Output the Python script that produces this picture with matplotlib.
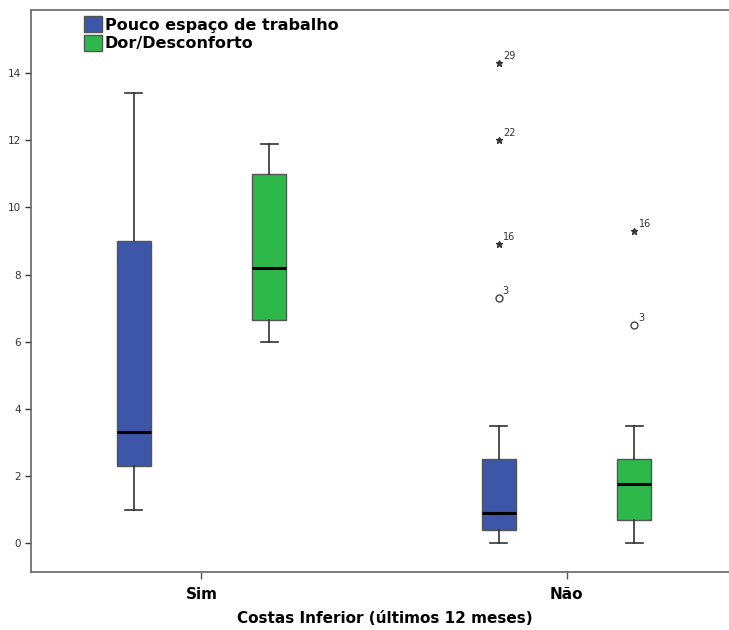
import numpy as np
import matplotlib.pyplot as plt
from matplotlib.patches import Patch

# groups on x axis
groups = ["Sim", "Não"]
series = ["Pouco espaço de trabalho", "Dor/Desconforto"]
colors = ["#3E56A8", "#2EB84B"]

# box stats: [whislo, q1, med, q3, whishi]
pouco = [[1.0, 2.3, 3.3, 9.0, 13.4], [0.0, 0.4, 0.9, 2.5, 3.5]]
dor = [[6.0, 6.65, 8.2, 11.0, 11.9], [0.0, 0.7, 1.75, 2.5, 3.5]]

# outliers (group index, series index, value, case label, kind)
out_group = [1, 1, 1, 1, 1, 1]
out_series = [0, 0, 0, 0, 1, 1]
out_value = [14.3, 12.0, 8.9, 7.3, 9.3, 6.5]
out_label = ["29", "22", "16", "3", "16", "3"]
out_kind = ["*", "*", "*", "o", "*", "o"]

offset = 0.186
width = 0.093

fig = plt.figure(figsize=(7.29, 6.30), dpi=100)
ax = fig.add_axes([0.0425, 0.092, 0.97, 0.892])

for s, data in enumerate([pouco, dor]):
    stats = []
    for g, v in enumerate(data):
        stats.append(dict(whislo=v[0], q1=v[1], med=v[2], q3=v[3], whishi=v[4], fliers=[]))
    pos = np.arange(len(groups)) + (offset if s else -offset)
    ax.bxp(stats, positions=pos, widths=width, patch_artist=True, showfliers=False,
           boxprops=dict(facecolor=colors[s], edgecolor="#555555", linewidth=1),
           medianprops=dict(color="black", linewidth=2.2),
           whiskerprops=dict(color="#333333", linewidth=1.2),
           capprops=dict(color="#333333", linewidth=1.2),
           capwidths=width * 0.5, manage_ticks=False)

for g, s, v, lab, k in zip(out_group, out_series, out_value, out_label, out_kind):
    x = g + (offset if s else -offset)
    if k == "*":
        ax.plot(x, v, marker="*", color="#333333", markersize=5, linestyle="none")
    else:
        ax.plot(x, v, marker="o", markerfacecolor="white", markeredgecolor="#444444",
                markersize=5, markeredgewidth=1, linestyle="none")
    ax.annotate(lab, (x, v), xytext=(3, 3), textcoords="offset points",
                fontsize=7, color="#333333")

ax.set_xlim(-0.467, 1.47)
ax.set_ylim(-0.86, 15.88)
ax.set_yticks(range(0, 15, 2))
ax.set_xticks(range(len(groups)))
ax.set_xticklabels(groups, fontsize=11, fontweight="bold")
ax.tick_params(axis="y", labelsize=7.5, colors="#333333", length=4, width=1)
ax.tick_params(axis="x", length=5, width=1, color="#555555", pad=6)
ax.set_xlabel("Costas Inferior (últimos 12 meses)", fontsize=11, fontweight="bold", labelpad=6)

for sp in ["left", "top", "bottom"]:
    ax.spines[sp].set_color("#666666")
    ax.spines[sp].set_linewidth(1.2)
ax.spines["right"].set_visible(False)

handles = [Patch(facecolor=c, edgecolor="#555555") for c in colors]
ax.legend(handles, series, loc="upper left", bbox_to_anchor=(0.066, 1.0), frameon=False,
          prop=dict(size=11.5, weight="bold"), handlelength=1.1, handleheight=1.15,
          handletextpad=0.2, labelspacing=0.12, borderaxespad=0)

fig.savefig("out.png", dpi=100)
